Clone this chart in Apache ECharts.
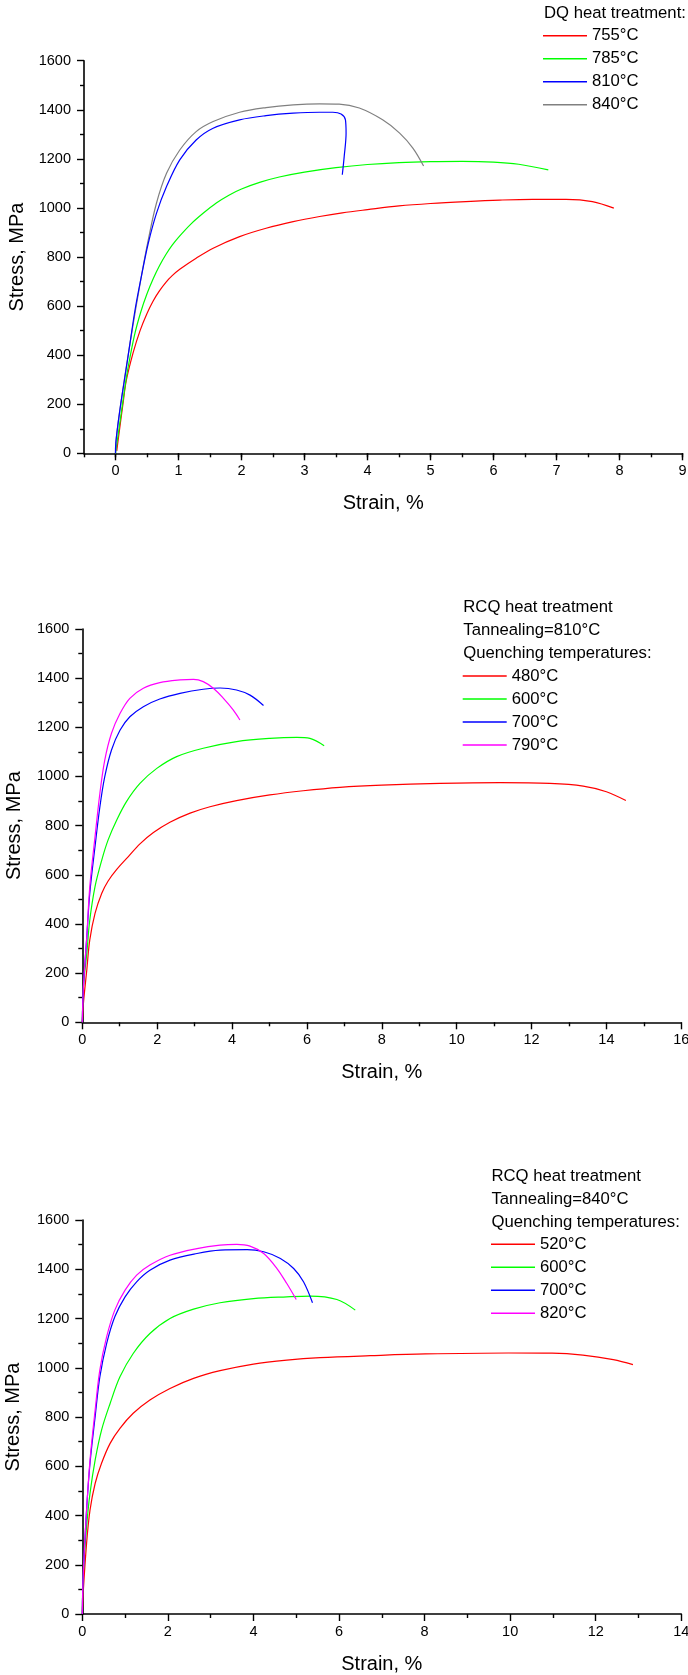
<!DOCTYPE html>
<html>
<head>
<meta charset="utf-8">
<script src="https://cdn.jsdelivr.net/npm/echarts@6/dist/echarts.min.js"></script>
<style>
html,body{margin:0;padding:0;background:#fff;}
#c{width:688px;height:1675px;}
</style>
</head>
<body>
<div id="c"></div>
<script>
// ---------- DATA ----------
// Chart 1: DQ heat treatment  [strain %, stress MPa]
const dq755 = [[0.02,10],[0.05,70],[0.12,204],[0.17,295],[0.28,410],[0.39,500],[0.5,570],[0.6,622],[0.7,663],[0.8,697],[0.9,724],[1.02,750],[1.28,795],[1.55,836],[1.97,883],[2.39,917],[2.82,944],[3.24,965],[3.6,980],[4.0,993],[4.5,1008],[5.0,1018],[5.56,1026],[6.1,1032],[6.62,1035],[7.15,1035],[7.57,1026],[7.91,999]];
const dq785 = [[0,0],[0.05,90],[0.1,180],[0.15,270],[0.2,350],[0.3,480],[0.4,575],[0.5,650],[0.6,712],[0.7,765],[0.8,810],[0.9,848],[1.0,880],[1.2,935],[1.4,980],[1.6,1020],[1.8,1052],[2.0,1077],[2.3,1105],[2.6,1126],[3.0,1146],[3.5,1164],[4.0,1177],[4.5,1185],[5.0,1189],[5.5,1190],[6.0,1187],[6.4,1178],[6.87,1155]];
const dq810 = [[0,0],[0.005,41],[0.07,177],[0.15,312],[0.23,448],[0.31,584],[0.41,720],[0.52,856],[0.65,978],[0.81,1087],[1.02,1196],[1.28,1277],[1.55,1325],[1.97,1359],[2.39,1376],[2.82,1386],[3.24,1390],[3.45,1390],[3.58,1383],[3.65,1359],[3.66,1305],[3.63,1209],[3.6,1135]];
const dq840 = [[0,0],[0.005,41],[0.07,177],[0.23,448],[0.41,720],[0.52,870],[0.65,1019],[0.81,1141],[1.02,1236],[1.28,1311],[1.55,1352],[1.97,1390],[2.39,1409],[2.82,1420],[3.24,1424],[3.55,1423],[3.87,1407],[4.24,1359],[4.51,1305],[4.72,1244],[4.89,1171]];

// Chart 2: RCQ, Tannealing = 810°C
const a810q480 = [[0,0],[0.03,77],[0.12,213],[0.2,335],[0.34,443],[0.52,525],[0.69,575],[0.92,622],[1.23,674],[1.54,726],[1.9,772],[2.34,814],[2.88,851],[3.41,877],[4.12,902],[5.01,925],[5.9,942],[6.88,956],[8.0,965],[9.55,972],[11.16,975],[12.49,972],[13.38,961],[14.0,938],[14.52,902]];
const a810q600 = [[0,0],[0.03,145],[0.12,281],[0.2,416],[0.34,552],[0.52,660],[0.69,742],[0.92,823],[1.18,898],[1.54,972],[1.99,1033],[2.52,1081],[3.23,1115],[4.12,1142],[5.01,1155],[5.73,1159],[6.08,1155],[6.46,1125]];
const a810q700 = [[0,0],[0.03,145],[0.12,348],[0.2,525],[0.34,715],[0.47,877],[0.6,999],[0.78,1108],[1.01,1189],[1.27,1243],[1.63,1284],[2.07,1315],[2.61,1338],[3.23,1355],[3.68,1360],[4.12,1352],[4.48,1331],[4.84,1289]];
const a810q790 = [[0,0],[0.03,145],[0.12,348],[0.2,552],[0.34,755],[0.47,932],[0.6,1067],[0.78,1176],[1.01,1257],[1.27,1318],[1.63,1359],[2.07,1382],[2.61,1393],[2.97,1395],[3.23,1386],[3.5,1359],[3.77,1318],[4.03,1271],[4.21,1230]];

// Chart 3: RCQ, Tannealing = 840°C
const a840q520 = [[0,0],[0.02,84],[0.1,287],[0.18,422],[0.3,530],[0.45,612],[0.65,693],[0.88,754],[1.19,815],[1.58,869],[2.05,916],[2.6,957],[3.22,988],[4.0,1015],[4.78,1031],[5.56,1041],[6.73,1049],[8.02,1056],[9.96,1060],[10.98,1059],[11.7,1051],[12.41,1033],[12.87,1013]];
const a840q600 = [[0,0],[0.02,152],[0.1,355],[0.18,490],[0.3,625],[0.45,747],[0.65,855],[0.88,963],[1.19,1058],[1.58,1139],[2.05,1200],[2.6,1238],[3.22,1264],[4.0,1281],[4.78,1288],[5.33,1291],[5.95,1277],[6.38,1234]];
const a840q700 = [[0,0],[0.02,152],[0.1,422],[0.18,612],[0.3,801],[0.41,963],[0.57,1099],[0.76,1207],[1.0,1288],[1.27,1349],[1.58,1396],[2.05,1437],[2.68,1464],[3.22,1478],[3.85,1480],[4.24,1471],[4.63,1444],[4.94,1403],[5.17,1349],[5.38,1264]];
const a840q820 = [[0,0],[0.02,152],[0.1,422],[0.18,625],[0.3,828],[0.41,991],[0.57,1126],[0.76,1234],[1.0,1315],[1.27,1376],[1.58,1417],[2.05,1457],[2.68,1484],[3.22,1498],[3.61,1501],[3.92,1494],[4.24,1464],[4.55,1403],[4.78,1342],[5.0,1277]];

// Legend / title texts
const names1 = ['755°C','785°C','810°C','840°C'];
const names2 = ['480°C','600°C','700°C','790°C'];
const names3 = ['520°C','600°C','700°C','820°C'];
const head1 = ['DQ heat treatment:'];
const head2 = ['RCQ heat treatment','Tannealing=810°C','Quenching temperatures:'];
const head3 = ['RCQ heat treatment','Tannealing=840°C','Quenching temperatures:'];

// Tick labels
const xLabels1 = [0,1,2,3,4,5,6,7,8,9];
const xMajor1 = [0,1,2,3,4,5,6,7,8,9];

// ---------- STYLE ----------
const FONT = 'Liberation Sans, Arial, sans-serif';
const BLACK = '#000';
const colors1 = ['#ff0000','#00ff00','#0000ff','#808080'];
const colors2 = ['#ff0000','#00ff00','#0000ff','#ff00ff'];

const grids = [
  {left:84, top:60.7, width:598.5, height:392.6},
  {left:82.3, top:629, width:599, height:393.3},
  {left:82.3, top:1220, width:599, height:394}
].map(g => Object.assign({outerBoundsMode:'none', containLabel:false, show:false}, g));

const axisLine = {show:true, onZero:false, lineStyle:{color:BLACK, width:1.6}};
const labelStyle = {color:BLACK, fontSize:14.5, fontFamily:FONT, formatter:v => String(v)};

function yAxis(gi, gap){
  return {
    type:'value', gridIndex:gi, min:0, max:1600, interval:200,
    name:'Stress, MPa', nameLocation:'middle', nameGap:gap,
    nameTextStyle:{color:BLACK, fontSize:20, fontFamily:FONT, lineHeight:20},
    axisLine:axisLine,
    axisTick:{show:true, inside:false, length:7, lineStyle:{color:BLACK, width:1.4}},
    minorTick:{show:true, splitNumber:2, length:4, lineStyle:{color:BLACK, width:1.4}},
    splitLine:{show:false}, minorSplitLine:{show:false},
    axisLabel:Object.assign({margin:13}, labelStyle)
  };
}
function xAxisMain(gi, max, interval){
  return {
    type:'value', gridIndex:gi, min:0, max:max, interval:interval, position:'bottom',
    name:'Strain, %', nameLocation:'middle', nameGap:40,
    nameTextStyle:{color:BLACK, fontSize:20, fontFamily:FONT, lineHeight:20},
    axisLine:axisLine,
    axisTick:{show:true, inside:false, length:7, lineStyle:{color:BLACK, width:1.4}},
    minorTick:{show:true, splitNumber:2, length:4, lineStyle:{color:BLACK, width:1.4}},
    splitLine:{show:false}, minorSplitLine:{show:false},
    axisLabel:Object.assign({margin:10, showMaxLabel:true, hideOverlap:false}, labelStyle)
  };
}

const xAxes = [
  // chart 1 main axis (-0.5 .. 9), minor half-step ticks, labels at integers
  {
    type:'value', gridIndex:0, min:-0.5, max:9, interval:0.5, position:'bottom',
    name:'Strain, %', nameLocation:'middle', nameGap:40,
    nameTextStyle:{color:BLACK, fontSize:20, fontFamily:FONT, lineHeight:20},
    axisLine:axisLine,
    axisTick:{show:true, inside:false, length:4, lineStyle:{color:BLACK, width:1.4}},
    splitLine:{show:false},
    axisLabel:Object.assign({margin:10, customValues:xLabels1, hideOverlap:false}, labelStyle)
  },
  // chart 1 overlay axis for long integer ticks
  {
    type:'value', gridIndex:0, min:-0.5, max:9, interval:0.5, position:'bottom', offset:0,
    axisLine:{show:false},
    axisTick:{show:true, inside:false, length:7, customValues:xMajor1, lineStyle:{color:BLACK, width:1.4}},
    axisLabel:{show:false}, splitLine:{show:false}
  },
  xAxisMain(1, 16, 2),
  xAxisMain(2, 14, 2)
];

const yAxes = [yAxis(0, 56.5), yAxis(1, 58), yAxis(2, 58.5)];

function line(name, data, color, xi, yi){
  return {
    type:'line', name:name, data:data, xAxisIndex:xi, yAxisIndex:yi,
    showSymbol:false, symbol:'none', smooth:0.35, color:color,
    lineStyle:{color:color, width:1.2}, emphasis:{disabled:true}, silent:true, z:3
  };
}

const series = [
  line(names1[0], dq755, colors1[0], 0, 0),
  line(names1[1], dq785, colors1[1], 0, 0),
  line(names1[3], dq840, colors1[3], 0, 0),
  line(names1[2], dq810, colors1[2], 0, 0),
  line(names2[0], a810q480, colors2[0], 2, 1),
  line(names2[1], a810q600, colors2[1], 2, 1),
  line(names2[2], a810q700, colors2[2], 2, 1),
  line(names2[3], a810q790, colors2[3], 2, 1),
  line(names3[0], a840q520, colors2[0], 3, 2),
  line(names3[1], a840q600, colors2[1], 3, 2),
  line(names3[2], a840q700, colors2[2], 3, 2),
  line(names3[3], a840q820, colors2[3], 3, 2)
];

function legend(names, left, top){
  return {
    orient:'vertical', left:left, top:top, padding:0, itemGap:0,
    itemWidth:44, itemHeight:1.4, icon:'rect', selectedMode:false,
    textStyle:{color:BLACK, fontSize:16.7, fontFamily:FONT, lineHeight:23},
    data:names
  };
}

function heads(lines, x, y0){
  return lines.map((t,i) => ({
    type:'text', x:x, y:y0 + i*23,
    style:{text:t, fill:BLACK, font:'16.7px ' + FONT, textVerticalAlign:'middle', textAlign:'left'},
    silent:true
  }));
}

const option = {
  animation:false,
  backgroundColor:'#fff',
  grid:grids,
  xAxis:xAxes,
  yAxis:yAxes,
  legend:[legend(names1, 543, 24.2), legend(names2, 462.7, 664.5), legend(names3, 491, 1232.8)],
  graphic:[].concat(heads(head1, 544, 13.3), heads(head2, 463.3, 607), heads(head3, 491.5, 1176)),
  series:series
};

const chart = echarts.init(document.getElementById('c'), null, {renderer:'canvas'});
chart.setOption(option);
</script>
</body>
</html>
